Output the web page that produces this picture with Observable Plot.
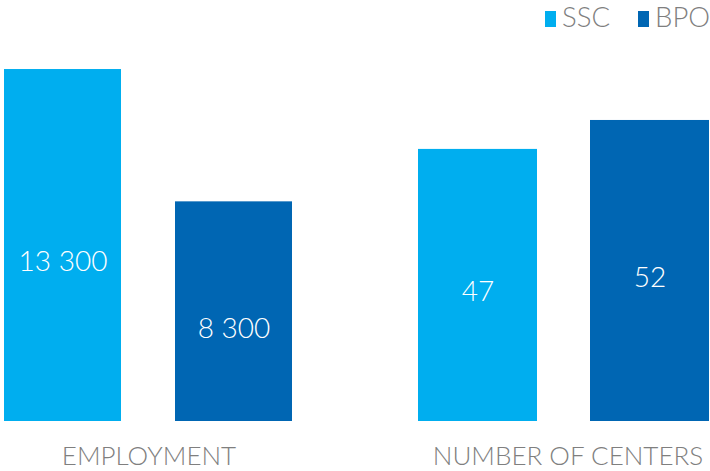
<!DOCTYPE html>
<html>
<head>
<meta charset="utf-8">
<script src="https://cdn.jsdelivr.net/npm/d3@7"></script>
<script src="https://cdn.jsdelivr.net/npm/@observablehq/plot@0.6"></script>
<style>
  html, body { margin: 0; padding: 0; background: #fff; }
  #wrap { width: 710px; height: 471px; position: relative; overflow: hidden; font-family: Lato, sans-serif; }
  #legend { position: relative; height: 40px; }
  .item { position: absolute; top: 0; height: 40px; }
  .sw { position: absolute; top: 11px; width: 11px; height: 16px; }
  .lab { position: absolute; top: 0px; font-size: 27.5px; font-weight: 300; color: #7f7f7f; line-height: 34px; white-space: nowrap; }
  #row { display: flex; }
</style>
</head>
<body>
<div id="wrap">
  <div id="legend"></div>
  <div id="row"></div>
</div>
<script>
const groups = ["EMPLOYMENT", "NUMBER OF CENTERS"];
const series = ["SSC", "BPO"];
const colors = ["#00AEEF", "#0066B3"];
const employment = [13300, 8300];
const centers = [47, 52];
const axisMax = [14000, 64];

const fmt = d3.formatLocale({decimal: ",", thousands: " ", grouping: [3], currency: ["", ""]}).format(",");

// Legend
const legend = document.getElementById("legend");
const legendX = [545, 638];
series.forEach((s, i) => {
  const item = document.createElement("div");
  item.className = "item";
  item.style.left = legendX[i] + "px";
  const sw = document.createElement("div");
  sw.className = "sw";
  sw.style.left = "0px";
  sw.style.background = colors[i];
  const lab = document.createElement("div");
  lab.className = "lab";
  lab.style.left = "17px";
  lab.textContent = s;
  item.appendChild(sw);
  item.appendChild(lab);
  legend.appendChild(item);
});

function panel(values, groupLabel, max, o) {
  const data = series.map((s, i) => ({series: s, value: values[i]}));
  return Plot.plot({
    width: o.width,
    height: 431,
    marginLeft: o.ml,
    marginRight: o.mr,
    marginTop: 10.5,
    marginBottom: 50,
    x: {domain: series, paddingInner: o.pi, paddingOuter: 0, axis: null},
    y: {domain: [0, max], axis: null},
    color: {domain: series, range: colors},
    style: {fontFamily: "Lato, sans-serif", overflow: "visible", background: "transparent"},
    marks: [
      Plot.barY(data, {x: "series", y: "value", fill: "series"}),
      Plot.text(data, {
        x: "series", y: d => d.value / 2, text: d => fmt(d.value),
        fill: "white", fontSize: 28, fontWeight: 300, dy: o.dy
      }),
      Plot.text([groupLabel], {
        frameAnchor: "bottom", lineAnchor: "top", dy: 25, dx: o.dx,
        text: d => d, fill: "#7f7f7f", fontSize: 26, fontWeight: 300
      })
    ]
  });
}

const row = document.getElementById("row");
row.appendChild(panel(employment, groups[0], axisMax[0], {width: 355, ml: 4, mr: 62, pi: 0.315, dy: 17, dx: 0}));
row.appendChild(panel(centers, groups[1], axisMax[1], {width: 355, ml: 63, mr: 1, pi: 0.31, dy: 7, dx: 4}));
</script>
</body>
</html>
